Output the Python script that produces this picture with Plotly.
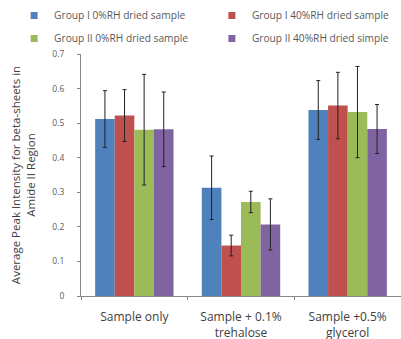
import plotly.graph_objects as go

categories = ["Sample only", "Sample + 0.1%<br>trehalose", "Sample +0.5%<br>glycerol"]
series_names = ["Group I 0%RH dried sample", "Group I 40%RH dried sample",
                "Group II 0%RH dried sample", "Group II 40%RH dried simple"]
g1_0 = [0.512, 0.313, 0.538]
g1_40 = [0.522, 0.146, 0.551]
g2_0 = [0.481, 0.272, 0.532]
g2_40 = [0.482, 0.207, 0.483]
err_g1_0 = [0.082, 0.092, 0.085]
err_g1_40 = [0.075, 0.030, 0.096]
err_g2_0 = [0.160, 0.031, 0.132]
err_g2_40 = [0.108, 0.074, 0.071]
colors = ["#4F81BD", "#C0504D", "#9BBB59", "#8064A2"]

values = [g1_0, g1_40, g2_0, g2_40]
errors = [err_g1_0, err_g1_40, err_g2_0, err_g2_40]
legend_ids = ["legend", "legend2", "legend3", "legend4"]
legend_pos = [(-0.209, 1.219), (0.409, 1.219), (-0.209, 1.124), (0.409, 1.124)]

fig = go.Figure()
for name, v, e, c, lg in zip(series_names, values, errors, colors, legend_ids):
    fig.add_trace(go.Bar(
        x=categories, y=v, name=name, marker=dict(color=c, line=dict(width=0)),
        error_y=dict(type="data", array=e, visible=True, color="#222222",
                     thickness=1, width=2),
        legendgroup=name, showlegend=False,
    ))
    fig.add_trace(go.Scatter(
        x=[None], y=[None], mode="markers", name=name, legendgroup=name,
        marker=dict(symbol="square", size=7, color=c), legend=lg, showlegend=True,
    ))

legend_common = dict(orientation="h", xanchor="left", yanchor="top", itemwidth=30,
                     font=dict(size=10.2, color="#595959"),
                     bgcolor="rgba(0,0,0,0)")
legend_layout = {lg: dict(x=px, y=py, **legend_common)
                 for lg, (px, py) in zip(legend_ids, legend_pos)}

fig.update_layout(
    width=401, height=339,
    margin=dict(l=81, r=0, t=54, b=43),
    paper_bgcolor="white", plot_bgcolor="white",
    barmode="group", bargap=0.265, bargroupgap=0,
    font=dict(family="Open Sans", color="#595959"),
    showlegend=True,
    **legend_layout,
    yaxis=dict(range=[0, 0.7], dtick=0.1, showgrid=False, showline=True,
               linecolor="#868686", linewidth=1, ticks="outside", ticklen=3,
               tickcolor="#868686", tickfont=dict(size=8.5, color="#595959"),
               ticklabelstandoff=11, zeroline=False, automargin=True,
               title=dict(text="Average Peak Intensity for beta-sheets in<br>Amide II Region",
                          font=dict(size=11.5, color="#404040"), standoff=14)),
    xaxis=dict(showgrid=False, showline=True, linecolor="#868686", linewidth=1,
               ticks="outside", tickson="boundaries", ticklen=3, tickcolor="#868686",
               tickfont=dict(size=12, color="#404040"), range=[-0.5, 2.5],
               ticklabelstandoff=10, automargin=False),
)

fig.write_html("out.html", config={"displayModeBar": False},
               post_script="document.body.style.margin='0px';")
